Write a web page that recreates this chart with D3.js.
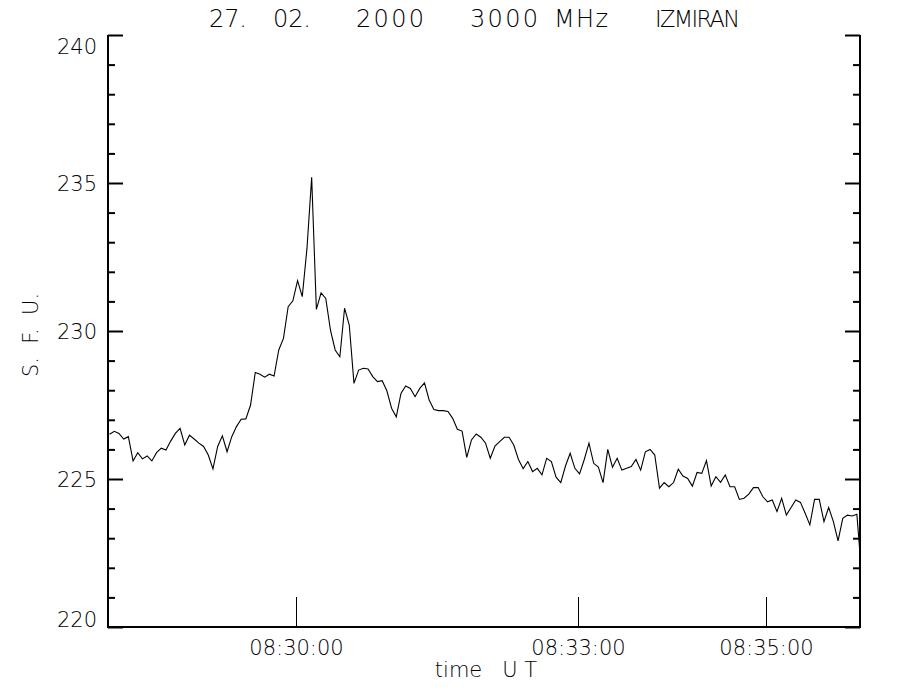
<!DOCTYPE html>
<html>
<head>
<meta charset="utf-8">
<script src="https://cdn.jsdelivr.net/npm/d3@7/dist/d3.min.js"></script>
<style>
  html, body { margin: 0; padding: 0; background: #fff; }
  svg { display: block; }
  text { font-family: "DejaVu Sans", "Liberation Sans", sans-serif; font-weight: 200; fill: #000; }
</style>
</head>
<body>
<svg id="chart" width="900" height="700"></svg>
<script>
// ---- data ----
const titleParts = ["27.", "02.", "2000", "3000", "MHz", "IZMIRAN"];
const yLabel = "S.  F.  U.";
const xLabel = "time   U T";
const startTime = "2000-02-27T08:28:01Z";   // first sample
const sampleStep = 3;                          // seconds between samples
const xDomain = ["2000-02-27T08:28:00Z", "2000-02-27T08:36:00Z"];
const xTickTimes = ["2000-02-27T08:30:00Z", "2000-02-27T08:33:00Z", "2000-02-27T08:35:00Z"];
const xTickLabels = ["08:30:00", "08:33:00", "08:35:00"];
const yDomain = [220, 240];
const yMajorTicks = [220, 225, 230, 235, 240];
const yMinorTicks = [221,222,223,224,226,227,228,229,231,232,233,234,236,237,238,239];
const flux = [
  226.51,226.61,226.54,226.35,226.43,225.61,225.89,225.68,225.78,225.61,
  225.89,226.04,225.98,226.28,226.54,226.71,226.15,226.48,226.35,226.21,
  226.10,225.81,225.34,226.10,226.46,225.92,226.43,226.77,227.02,227.03,
  227.50,228.60,228.54,228.44,228.54,228.48,229.36,229.75,230.82,231.02,
  231.70,231.16,232.79,235.19,230.73,231.29,231.10,230.03,229.36,229.13,
  230.77,230.20,228.23,228.68,228.74,228.72,228.46,228.29,228.32,227.98,
  227.39,227.10,227.89,228.14,228.06,227.78,228.06,228.25,227.67,227.35,
  227.31,227.31,227.28,227.05,226.68,226.62,225.73,226.32,226.52,226.41,
  226.21,225.70,226.11,226.26,226.41,226.41,226.15,225.66,225.35,225.59,
  225.25,225.36,225.14,225.70,225.59,225.06,224.88,225.44,225.87,225.36,
  225.17,225.66,226.21,225.53,225.40,224.88,226.00,225.40,225.70,225.30,
  225.36,225.42,225.66,225.30,225.92,226.00,225.81,224.69,224.88,224.74,
  224.88,225.33,225.10,225.02,224.76,225.22,225.19,225.62,224.76,225.08,
  224.89,225.14,224.74,224.74,224.31,224.35,224.49,224.71,224.71,224.40,
  224.23,224.29,223.90,224.35,223.78,224.04,224.29,224.21,223.84,223.45,
  224.31,224.31,223.56,224.04,223.56,222.91,223.67,223.78,223.75,223.81,
  221.80
];

// ---- layout ----
const svg = d3.select("#chart");
const L = 108, R = 860, T = 35, B = 627;

const x = d3.scaleUtc().domain(xDomain.map(d => new Date(d))).range([L, R]);
const y = d3.scaleLinear().domain(yDomain).range([B, T]);

const t0 = new Date(startTime).getTime();
const series = flux.map((v, i) => ({ t: new Date(t0 + i * sampleStep * 1000), v }));

svg.append("defs").append("clipPath").attr("id", "plotclip")
  .append("rect").attr("x", L).attr("y", T - 5).attr("width", R - L).attr("height", B - T + 5);

// data line
svg.append("path")
  .datum(series)
  .attr("clip-path", "url(#plotclip)")
  .attr("fill", "none")
  .attr("stroke", "#000")
  .attr("stroke-width", 1.1)
  .attr("stroke-linejoin", "miter")
  .attr("d", d3.line().x(d => x(d.t)).y(d => y(d.v)));

// y axes (left and right), ticks inward
function yTicks(g, axisGen) { g.call(axisGen); g.select(".domain").remove(); g.selectAll("line").attr("stroke", "#000").attr("stroke-width", 2); }
svg.append("g").attr("transform", `translate(${L},0)`)
  .call(g => yTicks(g, d3.axisRight(y).tickValues(yMinorTicks).tickSize(7).tickFormat("")));
svg.append("g").attr("transform", `translate(${L},0)`)
  .call(g => yTicks(g, d3.axisRight(y).tickValues(yMajorTicks).tickSize(15).tickFormat("")));
svg.append("g").attr("transform", `translate(${R},0)`)
  .call(g => yTicks(g, d3.axisLeft(y).tickValues(yMinorTicks).tickSize(7).tickFormat("")));
svg.append("g").attr("transform", `translate(${R},0)`)
  .call(g => yTicks(g, d3.axisLeft(y).tickValues(yMajorTicks).tickSize(15).tickFormat("")));

// y labels
const yLab = svg.append("g").attr("transform", `translate(${L},0)`)
  .call(d3.axisLeft(y).tickValues(yMajorTicks).tickSize(0).tickPadding(11).tickFormat(d3.format("d")));
yLab.select(".domain").remove();
yLab.selectAll("text").attr("font-size", 21).attr("font-family", "DejaVu Sans").attr("font-weight", 200)
  .attr("dy", d => d === yDomain[1] ? "0.9em" : d === yDomain[0] ? "-0.02em" : "0.36em");

// frame lines: left, right, bottom
svg.append("line").attr("x1", L).attr("x2", L).attr("y1", T).attr("y2", B + 1).attr("stroke", "#000").attr("stroke-width", 2);
svg.append("line").attr("x1", R).attr("x2", R).attr("y1", T).attr("y2", B + 1).attr("stroke", "#000").attr("stroke-width", 2);
svg.append("line").attr("x1", L - 1).attr("x2", R + 1).attr("y1", B).attr("y2", B).attr("stroke", "#000").attr("stroke-width", 2);

// x ticks (upward)
const xTicks = svg.append("g").attr("transform", `translate(0,${B})`)
  .call(d3.axisTop(x).tickValues(xTickTimes.map(d => new Date(d))).tickSize(30).tickFormat(""));
xTicks.select(".domain").remove();
xTicks.selectAll("line").attr("stroke", "#000").attr("stroke-width", 1);

// x labels
const xLab = svg.append("g").attr("transform", `translate(0,${B})`)
  .call(d3.axisBottom(x).tickValues(xTickTimes.map(d => new Date(d))).tickSize(0).tickPadding(13)
    .tickFormat((d, i) => xTickLabels[i]));
xLab.select(".domain").remove();
xLab.selectAll("text").attr("font-size", 21).attr("font-family", "DejaVu Sans").attr("font-weight", 200);

// axis titles
svg.append("text").attr("x", 486).attr("y", 677).attr("text-anchor", "middle")
  .attr("font-size", 21).style("white-space", "pre").text(xLabel);
svg.append("text").attr("transform", "translate(38,335) rotate(-90)").attr("text-anchor", "middle")
  .attr("font-size", 21).style("white-space", "pre").text(yLabel);

// title (each word placed at its spot)
const titleX = [209, 273, 356, 470, 554, 655];
const titleW = [38, 38, 68, 68, 54, 85];
const titleFs = [24, 24, 24, 24, 24, 22.5];
titleParts.forEach((p, i) => {
  svg.append("text").attr("x", titleX[i]).attr("y", 27).attr("font-size", titleFs[i])
    .attr("textLength", titleW[i]).attr("lengthAdjust", "spacing").text(p);
});
</script>
</body>
</html>
